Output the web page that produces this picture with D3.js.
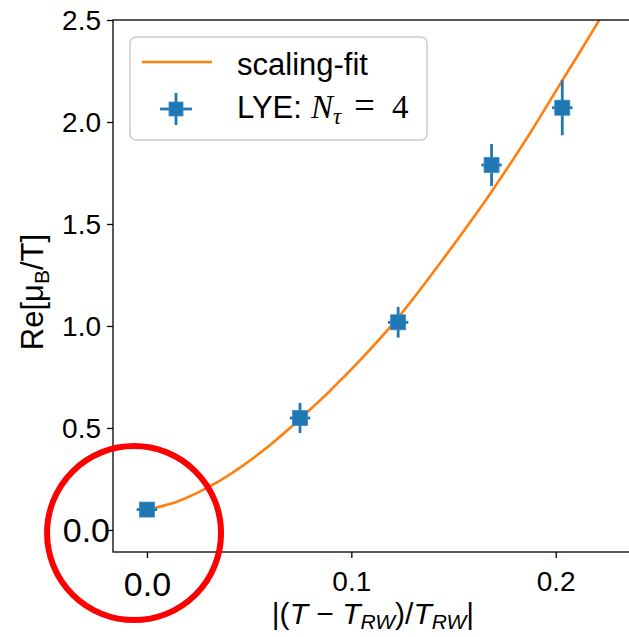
<!DOCTYPE html>
<html>
<head>
<meta charset="utf-8">
<script src="https://cdn.jsdelivr.net/npm/d3@7"></script>
<style>
  html, body { margin: 0; padding: 0; background: #fff; }
  svg { display: block; }
  text { font-family: "Liberation Sans", Arial, sans-serif; fill: #000; }
</style>
</head>
<body>
<svg id="chart" width="629" height="637"></svg>
<script>
// Measured LYE points (N_tau = 4)
const ptX = [0.0, 0.0749, 0.1229, 0.1686, 0.2032];
const ptY = [0.10, 0.549, 1.018, 1.789, 2.07];
const ptXErr = [0.005, 0.005, 0.005, 0.005, 0.005];
const ptYErr = [0.02, 0.074, 0.075, 0.103, 0.135];

// Scaling-fit curve samples
const fitX = [0.0, 0.015, 0.0294, 0.0553, 0.0749, 0.0993, 0.1228, 0.1458, 0.1686, 0.1874, 0.203, 0.2213, 0.226];
const fitY = [0.10, 0.14, 0.206, 0.377, 0.544, 0.78, 1.04, 1.34, 1.658, 1.945, 2.20, 2.50, 2.58];

// Tick labels
const xTicks = [0.0, 0.1, 0.2];
const yTicks = [0.0, 0.5, 1.0, 1.5, 2.0, 2.5];

const blue = "#1f77b4", orange = "#ff7f0e";
const svg = d3.select("#chart");

const L = 113, R = 633, T = 20, B = 552;
const x = d3.scaleLinear().domain([-0.0166, 0.2378]).range([L, R]);
const y = d3.scaleLinear().domain([-0.108, 2.5]).range([B, T]);

svg.append("defs").append("clipPath").attr("id", "plotclip")
  .append("rect").attr("x", L).attr("y", T).attr("width", R - L).attr("height", B - T);

// Fit line
const line = d3.line().x(d => x(d[0])).y(d => y(d[1])).curve(d3.curveMonotoneX);
svg.append("path")
  .attr("clip-path", "url(#plotclip)")
  .attr("d", line(fitX.map((v, i) => [v, fitY[i]])))
  .attr("fill", "none").attr("stroke", orange).attr("stroke-width", 2.6);

// Error bars + square markers
const pts = svg.append("g").attr("clip-path", "url(#plotclip)");
ptX.forEach((px, i) => {
  const py = ptY[i];
  pts.append("line")
    .attr("x1", x(px)).attr("x2", x(px))
    .attr("y1", y(py - ptYErr[i])).attr("y2", y(py + ptYErr[i]))
    .attr("stroke", blue).attr("stroke-width", 2.8);
  pts.append("line")
    .attr("x1", x(px - ptXErr[i])).attr("x2", x(px + ptXErr[i]))
    .attr("y1", y(py)).attr("y2", y(py))
    .attr("stroke", blue).attr("stroke-width", 2.8);
  pts.append("rect")
    .attr("x", x(px) - 7.5).attr("y", y(py) - 7.5)
    .attr("width", 15).attr("height", 15)
    .attr("fill", blue).attr("stroke", "#3a8bc4").attr("stroke-width", 0.8);
});

// Axes
const yAxis = d3.axisLeft(y).tickValues(yTicks).tickFormat(d3.format(".1f")).tickSize(6).tickPadding(6);
const xAxis = d3.axisBottom(x).tickValues(xTicks).tickFormat(d3.format(".1f")).tickSize(6).tickPadding(6);

const gy = svg.append("g").attr("transform", `translate(${L},0)`).call(yAxis);
const gx = svg.append("g").attr("transform", `translate(0,${B})`).call(xAxis);
[gx, gy].forEach(g => {
  g.select(".domain").remove();
  g.selectAll(".tick line").attr("stroke", "#000").attr("stroke-width", 1.3);
  g.selectAll(".tick text").attr("font-family", "Liberation Sans, Arial, sans-serif").attr("font-size", 28).attr("fill", "#000");
});
gx.selectAll(".tick text").attr("dy", "0.95em");
gy.selectAll(".tick text").attr("dy", "0.35em");
// the zero labels are set larger
gx.selectAll(".tick text").filter(d => d === 0).attr("font-size", 34);
gy.selectAll(".tick text").filter(d => d === 0).attr("font-size", 34).attr("x", -3);

// Frame
svg.append("rect").attr("x", L).attr("y", T).attr("width", R - L).attr("height", B - T)
  .attr("fill", "none").attr("stroke", "#000").attr("stroke-width", 1.3);

// Axis titles
const yl = svg.append("text")
  .attr("transform", `translate(43,292) rotate(-90)`)
  .attr("text-anchor", "middle").attr("font-size", 31);
yl.append("tspan").text("Re[μ");
yl.append("tspan").attr("font-size", 21).attr("dy", 6).text("B");
yl.append("tspan").attr("dy", -6).text("/T]");

const xl = svg.append("text")
  .attr("x", 373).attr("y", 624)
  .attr("text-anchor", "middle").attr("font-size", 30);
xl.append("tspan").text("|(");
xl.append("tspan").attr("font-style", "italic").text("T");
xl.append("tspan").text(" − ");
xl.append("tspan").attr("font-style", "italic").text("T");
xl.append("tspan").attr("font-style", "italic").attr("font-size", 21).attr("dy", 5).text("RW");
xl.append("tspan").attr("dy", -5).text(")/");
xl.append("tspan").attr("font-style", "italic").text("T");
xl.append("tspan").attr("font-style", "italic").attr("font-size", 21).attr("dy", 5).text("RW");
xl.append("tspan").attr("dy", -5).text("|");

// Legend
const lg = svg.append("g");
lg.append("rect").attr("x", 130).attr("y", 37).attr("width", 297).attr("height", 103)
  .attr("rx", 6).attr("fill", "#fff").attr("fill-opacity", 0.8)
  .attr("stroke", "#cccccc").attr("stroke-width", 1.5);
lg.append("line").attr("x1", 142).attr("x2", 212).attr("y1", 62).attr("y2", 62)
  .attr("stroke", orange).attr("stroke-width", 2.6);
lg.append("text").attr("x", 237).attr("y", 75).attr("font-size", 31).text("scaling-fit");
lg.append("line").attr("x1", 176).attr("x2", 176).attr("y1", 93).attr("y2", 125)
  .attr("stroke", blue).attr("stroke-width", 2.8);
lg.append("line").attr("x1", 160).attr("x2", 192).attr("y1", 109).attr("y2", 109)
  .attr("stroke", blue).attr("stroke-width", 2.8);
lg.append("rect").attr("x", 169).attr("y", 102).attr("width", 14).attr("height", 14)
  .attr("fill", blue).attr("stroke", "#3a8bc4").attr("stroke-width", 0.8);
const lt = lg.append("text").attr("x", 237).attr("y", 118).attr("font-size", 31);
lt.append("tspan").text("LYE:");
const serif = "Liberation Serif, serif";
lt.append("tspan").attr("x", 311).attr("font-family", serif).attr("font-style", "italic").attr("font-size", 33).text("N");
lt.append("tspan").attr("font-family", serif).attr("font-style", "italic").attr("font-size", 23).attr("dy", 6).text("τ");
lt.append("tspan").attr("x", 354).attr("dy", -6).attr("font-family", serif).attr("font-size", 37).text("=");
lt.append("tspan").attr("x", 392).attr("font-family", serif).attr("font-size", 33).text("4");

// Highlight ring around the origin point
svg.append("circle")
  .attr("cx", x(-0.0063)).attr("cy", y(-0.015)).attr("r", 87)
  .attr("fill", "none").attr("stroke", "#ff0000").attr("stroke-width", 6);
</script>
</body>
</html>
